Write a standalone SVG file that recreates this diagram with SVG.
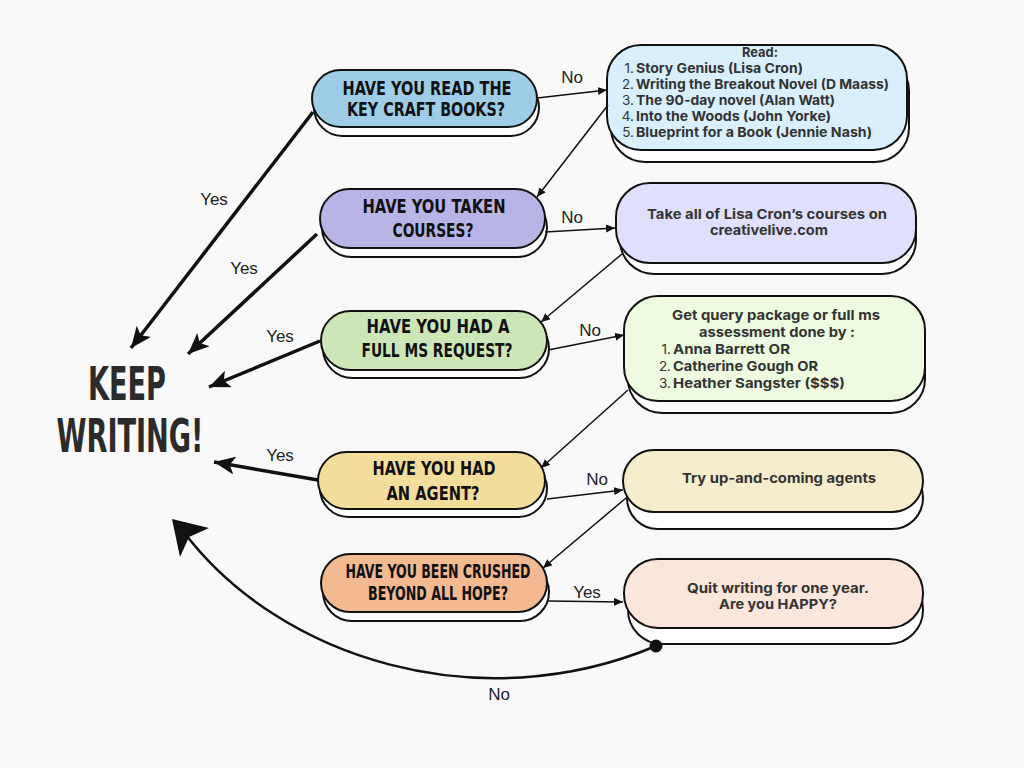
<svg xmlns="http://www.w3.org/2000/svg" width="1024" height="768" viewBox="0 0 1024 768">
<defs>
<style>
.bg{fill:#f9f9f9}
.sh{fill:#ffffff;stroke:#111;stroke-width:2}
.pill{stroke:#111;stroke-width:2}
.q{font-family:"Liberation Sans Narrow","DejaVu Sans Condensed","Liberation Sans",sans-serif;font-weight:bold;font-size:20px;fill:#111;text-anchor:middle}
.t{font-family:Inter,"Noto Sans","Liberation Sans",sans-serif;font-weight:bold;font-size:13.5px;fill:#333}
.tc{text-anchor:middle}
.n{text-anchor:end;font-weight:normal}
.lbl{font-family:"Liberation Sans",Arial,sans-serif;font-size:17px;fill:#222;text-anchor:middle}
.thin{fill:none;stroke:#111;stroke-width:1.5}
.thick{fill:none;stroke:#111;stroke-width:3.5}
.big{font-family:"Liberation Sans Narrow","DejaVu Sans Condensed","Liberation Sans",sans-serif;font-weight:bold;font-size:47px;fill:#2b2b2b;text-anchor:middle}
</style>
<marker id="sa" markerUnits="userSpaceOnUse" markerWidth="10" markerHeight="10" refX="9" refY="4" orient="auto">
<path d="M0,0 L9,4 L0,8 z" fill="#111"/>
</marker>
<marker id="ba" markerUnits="userSpaceOnUse" markerWidth="24" markerHeight="20" refX="21" refY="9" orient="auto">
<path d="M0,0 L21,9 L0,18 L5,9 z" fill="#111"/>
</marker>
</defs>
<rect class="bg" x="0" y="0" width="1024" height="768"/>

<g id="keep-writing">
<text class="big" x="127" y="400" textLength="78" lengthAdjust="spacingAndGlyphs">KEEP</text>
<text class="big" x="130" y="452" textLength="147" lengthAdjust="spacingAndGlyphs">WRITING!</text>
</g>

<g id="q1">
<rect class="sh" x="314" y="79" width="225" height="57" rx="28.5"/>
<rect class="pill" x="312" y="70" width="225" height="57" rx="28.5" fill="#9ecde8"/>
<text class="q" x="427" y="95" textLength="169" lengthAdjust="spacingAndGlyphs">HAVE YOU READ THE</text>
<text class="q" x="426" y="116" textLength="158" lengthAdjust="spacingAndGlyphs">KEY CRAFT BOOKS?</text>
</g>

<g id="q2">
<rect class="sh" x="322" y="198" width="225" height="59" rx="29.5"/>
<rect class="pill" x="320" y="189" width="225" height="59" rx="29.5" fill="#b9b4e6"/>
<text class="q" x="434" y="213" textLength="143" lengthAdjust="spacingAndGlyphs">HAVE YOU TAKEN</text>
<text class="q" x="433" y="237" textLength="81" lengthAdjust="spacingAndGlyphs">COURSES?</text>
</g>

<g id="q3">
<rect class="sh" x="323" y="319" width="226" height="59" rx="29.5"/>
<rect class="pill" x="321" y="311" width="226" height="59" rx="29.5" fill="#cde6b8"/>
<text class="q" x="438" y="333" textLength="143" lengthAdjust="spacingAndGlyphs">HAVE YOU HAD A</text>
<text class="q" x="437" y="357" textLength="151" lengthAdjust="spacingAndGlyphs">FULL MS REQUEST?</text>
</g>

<g id="q4">
<rect class="sh" x="320" y="460" width="227" height="57" rx="28.5"/>
<rect class="pill" x="318" y="452" width="227" height="57" rx="28.5" fill="#f2dd9c"/>
<text class="q" x="434" y="475" textLength="123" lengthAdjust="spacingAndGlyphs">HAVE YOU HAD</text>
<text class="q" x="433" y="500" textLength="93" lengthAdjust="spacingAndGlyphs">AN AGENT?</text>
</g>

<g id="q5">
<rect class="sh" x="323" y="563" width="226" height="58" rx="29"/>
<rect class="pill" x="321" y="554" width="226" height="58" rx="29" fill="#f3b991"/>
<text class="q" x="438" y="578" textLength="185" lengthAdjust="spacingAndGlyphs">HAVE YOU BEEN CRUSHED</text>
<text class="q" x="438" y="600" textLength="140" lengthAdjust="spacingAndGlyphs">BEYOND ALL HOPE?</text>
</g>

<g id="read-box">
<rect class="sh" x="611" y="57" width="298" height="105" rx="34"/>
<rect class="pill" x="607" y="45" width="300" height="105" rx="34" fill="#d9f0fc"/>
<text class="t tc" x="760" y="57" textLength="36" lengthAdjust="spacingAndGlyphs">Read:</text>
<text class="t n" x="634" y="73">1.</text><text class="t" x="636" y="73" textLength="167" lengthAdjust="spacingAndGlyphs">Story Genius (Lisa Cron)</text>
<text class="t n" x="634" y="89">2.</text><text class="t" x="636" y="89" textLength="253" lengthAdjust="spacingAndGlyphs">Writing the Breakout Novel (D Maass)</text>
<text class="t n" x="634" y="105">3.</text><text class="t" x="636" y="105" textLength="199" lengthAdjust="spacingAndGlyphs">The 90-day novel (Alan Watt)</text>
<text class="t n" x="634" y="121">4.</text><text class="t" x="636" y="121" textLength="195" lengthAdjust="spacingAndGlyphs">Into the Woods (John Yorke)</text>
<text class="t n" x="634" y="137">5.</text><text class="t" x="636" y="137" textLength="236" lengthAdjust="spacingAndGlyphs">Blueprint for a Book (Jennie Nash)</text>
</g>

<g id="courses-box">
<rect class="sh" x="620" y="194" width="296" height="80" rx="34"/>
<rect class="pill" x="616" y="183" width="300" height="80" rx="34" fill="#e0e0fc"/>
<text class="t tc" x="767" y="219" textLength="240" lengthAdjust="spacingAndGlyphs">Take all of Lisa Cron’s courses on</text>
<text class="t tc" x="769" y="235" textLength="118" lengthAdjust="spacingAndGlyphs">creativelive.com</text>
</g>

<g id="query-box">
<rect class="sh" x="628" y="308" width="297" height="105" rx="34"/>
<rect class="pill" x="624" y="296" width="301" height="105" rx="34" fill="#eefbe0"/>
<text class="t tc" x="776" y="320" textLength="208" lengthAdjust="spacingAndGlyphs">Get query package or full ms</text>
<text class="t tc" x="777" y="337" textLength="156" lengthAdjust="spacingAndGlyphs">assessment done by :</text>
<text class="t n" x="671" y="354">1.</text><text class="t" x="673" y="354" textLength="117" lengthAdjust="spacingAndGlyphs">Anna Barrett OR</text>
<text class="t n" x="671" y="371">2.</text><text class="t" x="673" y="371" textLength="145" lengthAdjust="spacingAndGlyphs">Catherine Gough OR</text>
<text class="t n" x="671" y="388">3.</text><text class="t" x="673" y="388" textLength="172" lengthAdjust="spacingAndGlyphs">Heather Sangster ($$$)</text>
</g>

<g id="agents-box">
<rect class="sh" x="627" y="467" width="296" height="62" rx="31"/>
<rect class="pill" x="623" y="450" width="300" height="62" rx="31" fill="#f6edcc"/>
<text class="t tc" x="779" y="483" textLength="194" lengthAdjust="spacingAndGlyphs">Try up-and-coming agents</text>
</g>

<g id="quit-box">
<rect class="sh" x="628" y="575" width="295" height="69" rx="34"/>
<rect class="pill" x="624" y="559" width="299" height="69" rx="34" fill="#fae6da"/>
<text class="t tc" x="778" y="593" textLength="182" lengthAdjust="spacingAndGlyphs">Quit writing for one year.</text>
<text class="t tc" x="778" y="609" textLength="118" lengthAdjust="spacingAndGlyphs">Are you HAPPY?</text>
</g>

<g id="connectors">
<line class="thin" x1="537" y1="98" x2="607" y2="90" marker-end="url(#sa)"/>
<line class="thin" x1="608" y1="105" x2="537" y2="197" marker-end="url(#sa)"/>
<line class="thin" x1="545" y1="232" x2="615" y2="228" marker-end="url(#sa)"/>
<line class="thin" x1="622" y1="254" x2="541" y2="322" marker-end="url(#sa)"/>
<line class="thin" x1="548" y1="350" x2="624" y2="335" marker-end="url(#sa)"/>
<line class="thin" x1="628" y1="390" x2="541" y2="468" marker-end="url(#sa)"/>
<line class="thin" x1="547" y1="499" x2="623" y2="490" marker-end="url(#sa)"/>
<line class="thin" x1="626" y1="498" x2="543" y2="568" marker-end="url(#sa)"/>
<line class="thin" x1="548" y1="601" x2="623" y2="602" marker-end="url(#sa)"/>

<line class="thick" x1="313" y1="112" x2="131" y2="348" marker-end="url(#ba)"/>
<line class="thick" x1="317" y1="234" x2="188" y2="354" marker-end="url(#ba)"/>
<line class="thick" x1="320" y1="341" x2="209" y2="387" marker-end="url(#ba)"/>
<line class="thick" x1="318" y1="480" x2="214" y2="462" marker-end="url(#ba)"/>

<path d="M656,646 C480,720 280,660 183,531" fill="none" stroke="#111" stroke-width="2.5"/>
<path d="M172,519 L209,528 L189,537 L180,557 z" fill="#111"/>
<circle cx="656" cy="646" r="6.5" fill="#111"/>

<text class="lbl" x="572" y="83">No</text>
<text class="lbl" x="572" y="223">No</text>
<text class="lbl" x="590" y="336">No</text>
<text class="lbl" x="597" y="485">No</text>
<text class="lbl" x="587" y="598">Yes</text>
<text class="lbl" x="499" y="700">No</text>
<text class="lbl" x="214" y="205">Yes</text>
<text class="lbl" x="244" y="274">Yes</text>
<text class="lbl" x="280" y="342">Yes</text>
<text class="lbl" x="280" y="461">Yes</text>
</g>
</svg>
